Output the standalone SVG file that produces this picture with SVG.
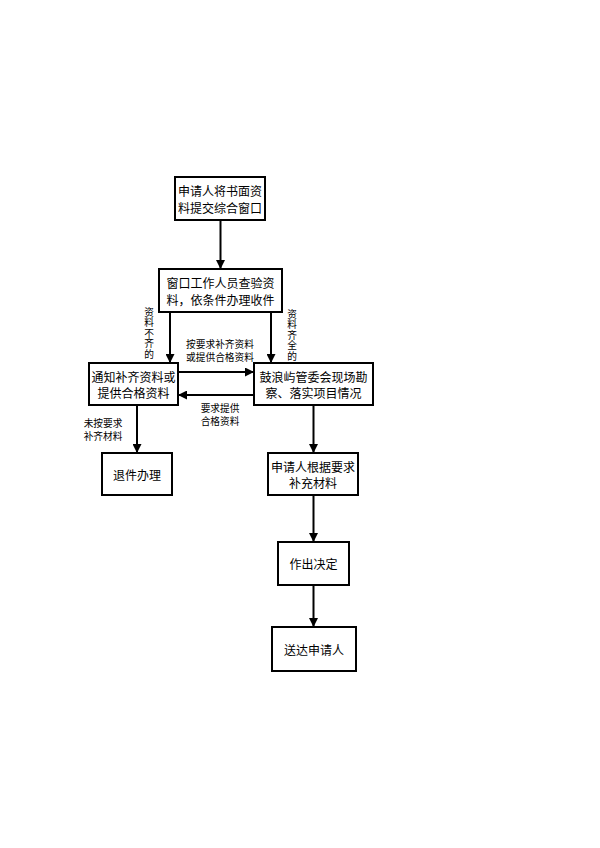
<svg xmlns="http://www.w3.org/2000/svg" width="600" height="848" viewBox="0 0 600 848">
<style>
.box{fill:#fff;stroke:#000;stroke-width:2}
.t{font-family:"Noto Sans CJK SC","Noto Sans CJK JP",sans-serif;font-size:12px;fill:#000;text-anchor:middle;dominant-baseline:central}
.s{font-family:"Noto Sans CJK SC","Noto Sans CJK JP",sans-serif;font-size:9.7px;fill:#000;text-anchor:middle;dominant-baseline:central}
.v{font-family:"Noto Sans CJK SC","Noto Sans CJK JP",sans-serif;font-size:9.7px;fill:#000;writing-mode:vertical-rl;text-anchor:start;dominant-baseline:central;letter-spacing:0.8px}
.c{stroke:#000;stroke-width:2;fill:none;marker-end:url(#ah)}
</style>
<defs>
<marker id="ah" viewBox="0 0 10 10" refX="10" refY="5" markerWidth="4.5" markerHeight="4.5" orient="auto" markerUnits="strokeWidth">
<path d="M0,0 L10,5 L0,10 z" fill="#000"/>
</marker>
</defs>
<rect width="600" height="848" fill="#fff"/>
<g id="connectors">
<line class="c" x1="220.5" y1="220" x2="220.5" y2="269"/>
<line class="c" x1="170" y1="312" x2="170" y2="363"/>
<line class="c" x1="271" y1="312" x2="271" y2="363"/>
<line class="c" x1="178" y1="372" x2="254" y2="372"/>
<line class="c" x1="254" y1="395" x2="178" y2="395"/>
<line class="c" x1="137" y1="405" x2="137" y2="453"/>
<line class="c" x1="313.5" y1="405" x2="313.5" y2="453"/>
<line class="c" x1="313.5" y1="495" x2="313.5" y2="542"/>
<line class="c" x1="313.5" y1="585" x2="313.5" y2="627"/>
</g>
<g id="labels">
<text class="v" x="149" y="307">资料不齐的</text>
<text class="v" x="292" y="309">资料齐全的</text>
<text class="s" x="220" y="344">按要求补齐资料<tspan x="220" dy="13">或提供合格资料</tspan></text>
<text class="s" x="220" y="408">要求提供<tspan x="220" dy="13">合格资料</tspan></text>
<text class="s" x="103" y="423">未按要求<tspan x="103" dy="13">补齐材料</tspan></text>
</g>
<g id="n1">
<rect class="box" x="175" y="177" width="90" height="43"/>
<text class="t" x="220" y="190.5">申请人将书面资<tspan x="220" dy="16">料提交综合窗口</tspan></text>
</g>
<g id="n2">
<rect class="box" x="159" y="269" width="123" height="43"/>
<text class="t" x="220.5" y="282.5">窗口工作人员查验资<tspan x="220.5" dy="16">料，依条件办理收件</tspan></text>
</g>
<g id="n3">
<rect class="box" x="89" y="363" width="89" height="42"/>
<text class="t" x="133.5" y="376">通知补齐资料或<tspan x="133.5" dy="16">提供合格资料</tspan></text>
</g>
<g id="n4">
<rect class="box" x="254" y="363" width="119" height="42"/>
<text class="t" x="313.5" y="376">鼓浪屿管委会现场勘<tspan x="313.5" dy="16">察、落实项目情况</tspan></text>
</g>
<g id="n5">
<rect class="box" x="102" y="453" width="70" height="42"/>
<text class="t" x="137" y="474">退件办理</text>
</g>
<g id="n6">
<rect class="box" x="268" y="453" width="90" height="42"/>
<text class="t" x="313" y="466">申请人根据要求<tspan x="313" dy="16">补充材料</tspan></text>
</g>
<g id="n7">
<rect class="box" x="278" y="542" width="71" height="43"/>
<text class="t" x="313.5" y="563.5">作出决定</text>
</g>
<g id="n8">
<rect class="box" x="272" y="627" width="84" height="44"/>
<text class="t" x="314" y="649">送达申请人</text>
</g>
</svg>
